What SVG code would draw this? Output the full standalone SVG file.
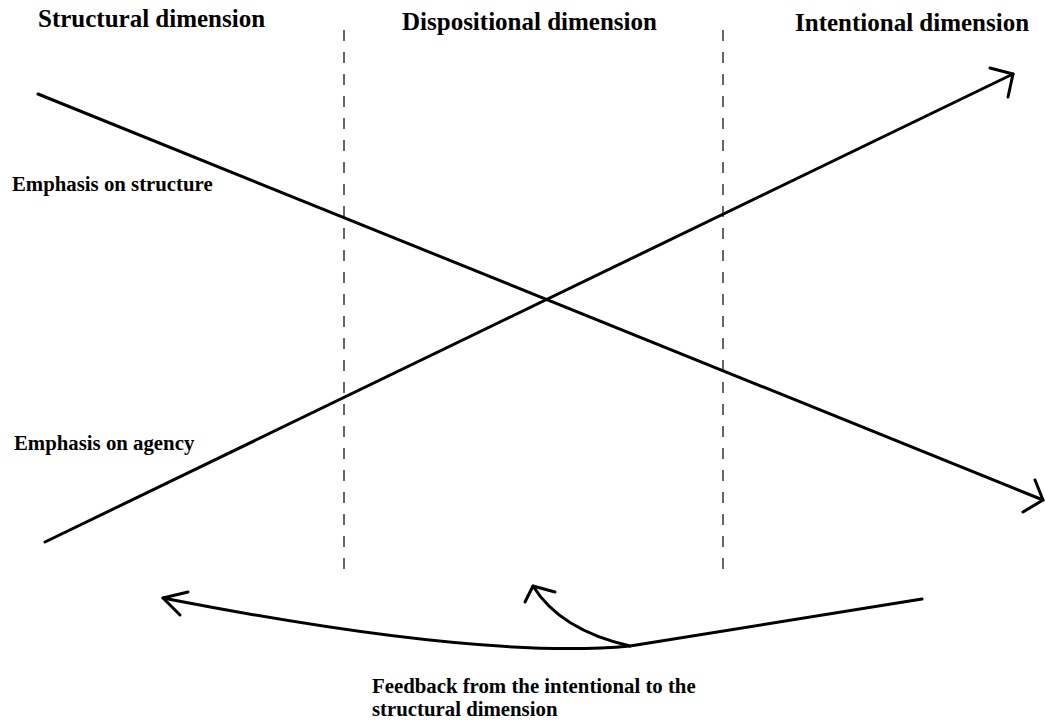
<svg xmlns="http://www.w3.org/2000/svg" width="1045" height="720" viewBox="0 0 1045 720">
  <style>
    .lbl { font-family: "Liberation Serif", "Times New Roman", serif; font-weight: bold; fill: #000; }
    .head { font-size: 25px; }
    .side { font-size: 20.8px; }
    .line { fill: none; stroke: #000; stroke-width: 3; stroke-linecap: round; stroke-linejoin: round; }
    .divider { stroke: #333; stroke-width: 1.5; stroke-dasharray: 11 11; }
  </style>
  <rect width="1045" height="720" fill="#fff"/>

  <g id="headings">
    <text class="lbl head" x="38" y="27">Structural dimension</text>
    <text class="lbl head" x="402" y="30">Dispositional dimension</text>
    <text class="lbl head" x="795" y="31">Intentional dimension</text>
  </g>

  <g id="dividers">
    <line class="divider" x1="344" y1="30" x2="344" y2="570"/>
    <line class="divider" x1="723" y1="30" x2="723" y2="570"/>
  </g>

  <g id="side-labels">
    <text class="lbl side" x="12" y="191">Emphasis on structure</text>
    <text class="lbl side" x="14" y="450">Emphasis on agency</text>
  </g>

  <g id="feedback-label">
    <text class="lbl side" x="372" y="693">Feedback from the intentional to the</text>
    <text class="lbl side" x="372" y="716">structural dimension</text>
  </g>

  <g id="connectors">
    <!-- structure emphasis decreasing -->
    <path class="line" d="M38 94 L1043 500"/>
    <path class="line" d="M1035 480 L1043 500 L1023 512"/>
    <!-- agency emphasis increasing -->
    <path class="line" d="M45 542 L1013 74"/>
    <path class="line" d="M990 68 L1013 74 L1008 97"/>
    <!-- feedback arrows -->
    <path class="line" d="M922 599 L630 646 Q480 660 163 598"/>
    <path class="line" d="M188 592 L163 598 L180 615"/>
    <path class="line" d="M630 646 Q560 630 533 586"/>
    <path class="line" d="M555 592 L533 586 L525 602"/>
  </g>
</svg>
